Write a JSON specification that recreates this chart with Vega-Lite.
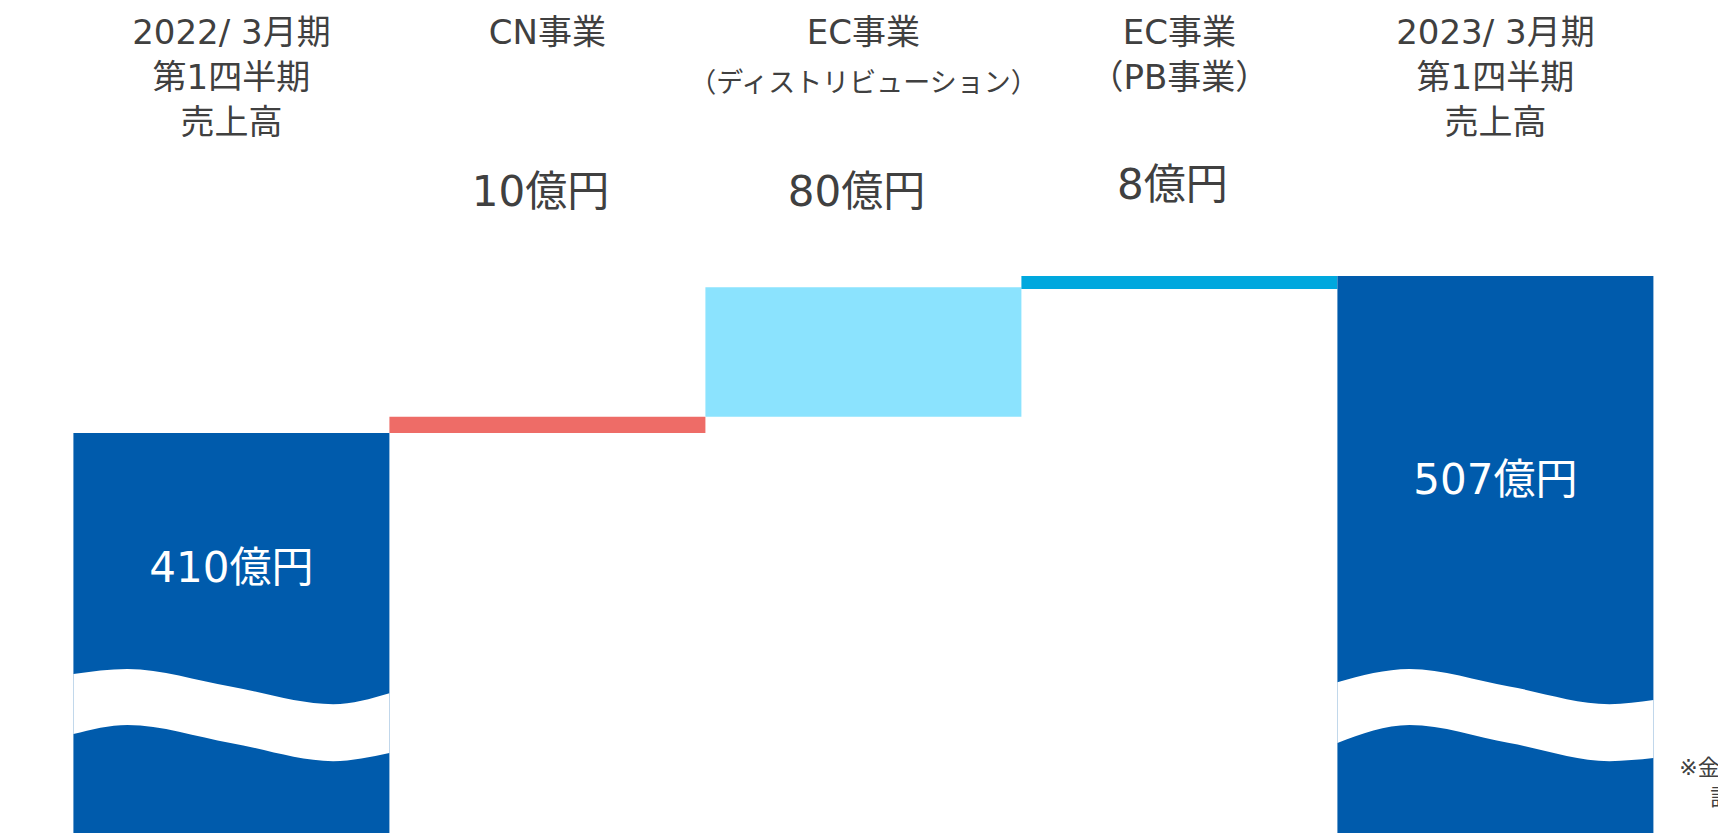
{
  "$schema": "https://vega.github.io/schema/vega-lite/v6.json",
  "width": 1718,
  "height": 833,
  "autosize": {"type": "none"},
  "padding": 0,
  "background": "white",
  "config": {"view": {"stroke": null}, "font": "DejaVu Sans, Noto Sans CJK JP"},
  "datasets": {
    "bars": [
      {"order": 0, "segment": "total22", "label": "2022/ 3月期|第1四半期|売上高", "from": 0, "to": 410, "amount": "410億円"},
      {"order": 1, "segment": "CN", "label": "CN事業", "from": 410, "to": 420, "amount": "10億円"},
      {"order": 2, "segment": "ECD", "label": "EC事業", "sub": "（ディストリビューション）", "from": 420, "to": 500, "amount": "80億円"},
      {"order": 3, "segment": "PB", "label": "EC事業|（PB事業）", "from": 499, "to": 507, "amount": "8億円"},
      {"order": 4, "segment": "total23", "label": "2023/ 3月期|第1四半期|売上高", "from": 0, "to": 507, "amount": "507億円"}
    ],
    "breaks": [
      {"bar": "a", "pos": 0, "upper": 261.1, "lower": 224.0},
      {"bar": "a", "pos": 0.171, "upper": 264.2, "lower": 229.6},
      {"bar": "a", "pos": 0.497, "upper": 253.4, "lower": 218.5},
      {"bar": "a", "pos": 0.822, "upper": 242.5, "lower": 207.3},
      {"bar": "a", "pos": 1.0, "upper": 249.3, "lower": 212.3},
      {"bar": "b", "pos": 4.0, "upper": 256.1, "lower": 218.5},
      {"bar": "b", "pos": 4.228, "upper": 264.2, "lower": 229.6},
      {"bar": "b", "pos": 4.544, "upper": 253.4, "lower": 218.5},
      {"bar": "b", "pos": 4.861, "upper": 242.5, "lower": 207.3},
      {"bar": "b", "pos": 5.0, "upper": 245.0, "lower": 209.2}
    ]
  },
  "layer": [
    {
      "data": {"name": "bars"},
      "transform": [{"calculate": "datum.order + 1", "as": "orderEnd"}],
      "mark": {"type": "bar", "clip": true},
      "encoding": {
        "x": {"field": "order", "type": "quantitative", "scale": {"domain": [-0.2323, 5.2044], "nice": false, "zero": false}, "axis": null},
        "x2": {"field": "orderEnd"},
        "y": {"field": "from", "type": "quantitative", "scale": {"domain": [162.9, 677.5], "nice": false, "zero": false}, "axis": null},
        "y2": {"field": "to"},
        "color": {
          "field": "segment", "type": "nominal", "legend": null,
          "scale": {"domain": ["total22", "CN", "ECD", "PB", "total23"], "range": ["#005BAC", "#EE6C67", "#8BE3FE", "#00A8DE", "#005BAC"]}
        }
      }
    },
    {
      "data": {"name": "breaks"},
      "mark": {"type": "area", "interpolate": "monotone", "fill": "white", "clip": true},
      "encoding": {
        "x": {"field": "pos", "type": "quantitative", "scale": {"domain": [-0.2323, 5.2044], "nice": false, "zero": false}, "axis": null},
        "y": {"field": "upper", "type": "quantitative", "scale": {"domain": [162.9, 677.5], "nice": false, "zero": false}, "axis": null},
        "y2": {"field": "lower"},
        "detail": {"field": "bar", "type": "nominal"}
      }
    },
    {
      "data": {"name": "bars"},
      "transform": [{"calculate": "datum.order + 0.5", "as": "mid"}],
      "mark": {"type": "text", "baseline": "top", "align": "center", "fontSize": 34, "lineHeight": 45, "lineBreak": "|", "color": "#404040"},
      "encoding": {
        "x": {"field": "mid", "type": "quantitative", "scale": {"domain": [-0.2323, 5.2044], "nice": false, "zero": false}, "axis": null},
        "y": {"datum": 667.0, "type": "quantitative", "scale": {"domain": [162.9, 677.5], "nice": false, "zero": false}, "axis": null},
        "text": {"field": "label"}
      }
    },
    {
      "data": {"name": "bars"},
      "transform": [{"filter": "isValid(datum.sub)"}, {"calculate": "datum.order + 0.5", "as": "mid"}],
      "mark": {"type": "text", "baseline": "alphabetic", "align": "center", "fontSize": 27, "color": "#404040"},
      "encoding": {
        "x": {"field": "mid", "type": "quantitative", "scale": {"domain": [-0.2323, 5.2044], "nice": false, "zero": false}, "axis": null},
        "y": {"datum": 620.7, "type": "quantitative", "scale": {"domain": [162.9, 677.5], "nice": false, "zero": false}, "axis": null},
        "text": {"field": "sub"}
      }
    },
    {
      "data": {"name": "bars"},
      "transform": [{"filter": "datum.order >= 1 && datum.order <= 2"}, {"calculate": "datum.order + 0.5", "as": "mid"}],
      "mark": {"type": "text", "baseline": "alphabetic", "align": "center", "fontSize": 42, "dx": -7, "color": "#404040"},
      "encoding": {
        "x": {"field": "mid", "type": "quantitative", "scale": {"domain": [-0.2323, 5.2044], "nice": false, "zero": false}, "axis": null},
        "y": {"datum": 550.2, "type": "quantitative", "scale": {"domain": [162.9, 677.5], "nice": false, "zero": false}, "axis": null},
        "text": {"field": "amount"}
      }
    },
    {
      "data": {"name": "bars"},
      "transform": [{"filter": "datum.order == 3"}, {"calculate": "datum.order + 0.5", "as": "mid"}],
      "mark": {"type": "text", "baseline": "alphabetic", "align": "center", "fontSize": 42, "dx": -7, "color": "#404040"},
      "encoding": {
        "x": {"field": "mid", "type": "quantitative", "scale": {"domain": [-0.2323, 5.2044], "nice": false, "zero": false}, "axis": null},
        "y": {"datum": 554.6, "type": "quantitative", "scale": {"domain": [162.9, 677.5], "nice": false, "zero": false}, "axis": null},
        "text": {"field": "amount"}
      }
    },
    {
      "data": {"name": "bars"},
      "transform": [{"filter": "datum.order == 0"}, {"calculate": "datum.order + 0.5", "as": "mid"}],
      "mark": {"type": "text", "baseline": "alphabetic", "align": "center", "fontSize": 42, "color": "white"},
      "encoding": {
        "x": {"field": "mid", "type": "quantitative", "scale": {"domain": [-0.2323, 5.2044], "nice": false, "zero": false}, "axis": null},
        "y": {"datum": 317.9, "type": "quantitative", "scale": {"domain": [162.9, 677.5], "nice": false, "zero": false}, "axis": null},
        "text": {"field": "amount"}
      }
    },
    {
      "data": {"name": "bars"},
      "transform": [{"filter": "datum.order == 4"}, {"calculate": "datum.order + 0.5", "as": "mid"}],
      "mark": {"type": "text", "baseline": "alphabetic", "align": "center", "fontSize": 42, "color": "white"},
      "encoding": {
        "x": {"field": "mid", "type": "quantitative", "scale": {"domain": [-0.2323, 5.2044], "nice": false, "zero": false}, "axis": null},
        "y": {"datum": 372.3, "type": "quantitative", "scale": {"domain": [162.9, 677.5], "nice": false, "zero": false}, "axis": null},
        "text": {"field": "amount"}
      }
    },
    {
      "data": {"values": [{"note": "※金額は億円未満を四捨五入して"}]},
      "mark": {"type": "text", "baseline": "alphabetic", "align": "left", "fontSize": 22, "color": "#404040"},
      "encoding": {
        "x": {"datum": 5.082, "type": "quantitative", "scale": {"domain": [-0.2323, 5.2044], "nice": false, "zero": false}, "axis": null},
        "y": {"datum": 198.7, "type": "quantitative", "scale": {"domain": [162.9, 677.5], "nice": false, "zero": false}, "axis": null},
        "text": {"field": "note"}
      }
    },
    {
      "data": {"values": [{"note": "記載しております"}]},
      "mark": {"type": "text", "baseline": "alphabetic", "align": "left", "fontSize": 22, "color": "#404040"},
      "encoding": {
        "x": {"datum": 5.18, "type": "quantitative", "scale": {"domain": [-0.2323, 5.2044], "nice": false, "zero": false}, "axis": null},
        "y": {"datum": 180.0, "type": "quantitative", "scale": {"domain": [162.9, 677.5], "nice": false, "zero": false}, "axis": null},
        "text": {"field": "note"}
      }
    }
  ]
}
